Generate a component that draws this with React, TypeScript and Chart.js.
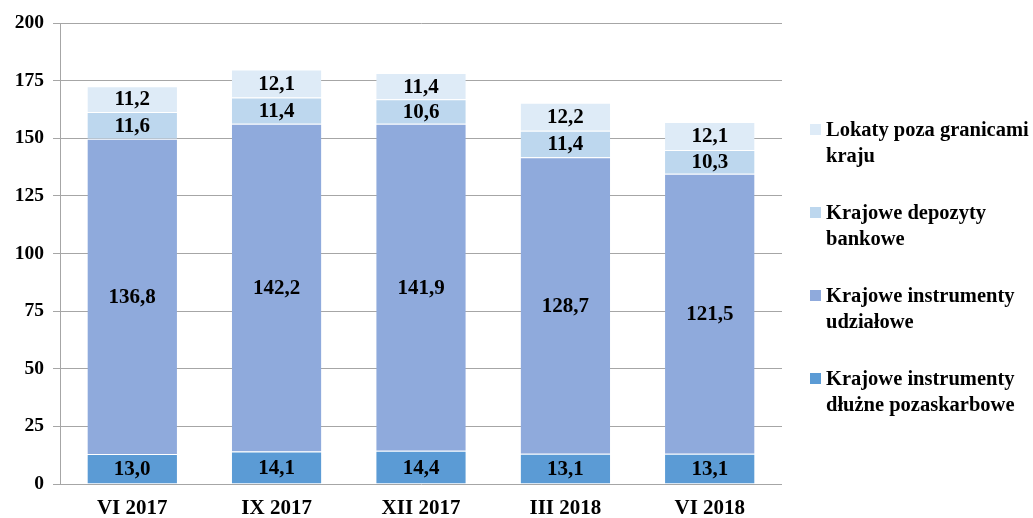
import React, { useEffect, useRef } from "react";
import { Chart, registerables } from "chart.js";

Chart.register(...registerables);

const categories = ["VI 2017", "IX 2017", "XII 2017", "III 2018", "VI 2018"];
const dluzne = [13.0, 14.1, 14.4, 13.1, 13.1];
const udzialowe = [136.8, 142.2, 141.9, 128.7, 121.5];
const depozyty = [11.6, 11.4, 10.6, 11.4, 10.3];
const lokaty = [11.2, 12.1, 11.4, 12.2, 12.1];

const seriesNames = [
  "Krajowe instrumenty dłużne pozaskarbowe",
  "Krajowe instrumenty udziałowe",
  "Krajowe depozyty bankowe",
  "Lokaty poza granicami kraju",
];
const legendLines = [
  ["Lokaty poza granicami", "kraju"],
  ["Krajowe depozyty", "bankowe"],
  ["Krajowe instrumenty", "udziałowe"],
  ["Krajowe instrumenty", "dłużne pozaskarbowe"],
];
const colors = ["#5B9BD5", "#8FAADC", "#BDD7EE", "#DEEBF7"];
const legendColors = ["#DEEBF7", "#BDD7EE", "#8FAADC", "#5B9BD5"];

const FONT = "'Liberation Serif', 'Times New Roman', serif";

const labelPlugin = {
  id: "segLabels",
  afterDatasetsDraw(chart: any) {
    const ctx = chart.ctx;
    ctx.save();
    ctx.font = `bold 21px ${FONT}`;
    ctx.fillStyle = "#000";
    ctx.textAlign = "center";
    ctx.textBaseline = "middle";
    chart.data.datasets.forEach((ds: any, i: number) => {
      const meta = chart.getDatasetMeta(i);
      meta.data.forEach((bar: any, j: number) => {
        const v = ds.data[j] as number;
        const y = (bar.y + bar.base) / 2;
        ctx.fillText(v.toFixed(1).replace(".", ","), bar.x, y + 1);
      });
    });
    ctx.restore();
  },
};

export default function App() {
  const ref = useRef<HTMLCanvasElement>(null);
  useEffect(() => {
    document.body.style.margin = "0";
    const chart = new Chart(ref.current!, {
      type: "bar",
      data: {
        labels: categories,
        datasets: [dluzne, udzialowe, depozyty, lokaty].map((d, i) => ({
          label: seriesNames[i],
          data: d,
          backgroundColor: colors[i],
          borderColor: "#ffffff",
          borderWidth: { top: 1, left: 0, right: 0, bottom: 0 },
          borderSkipped: false,
          categoryPercentage: 1,
          barPercentage: 0.62,
        })),
      },
      options: {
        animation: false,
        responsive: false,
        layout: { padding: { top: 23, right: 251, left: 0, bottom: 0 } },
        plugins: { legend: { display: false }, tooltip: { enabled: false } },
        scales: {
          x: {
            stacked: true,
            grid: { display: false },
            border: { display: false },
            ticks: {
              color: "#000",
              font: { family: FONT, size: 21, weight: "bold" },
              padding: 4,
            },
            afterFit: (s: any) => {
              s.height = 34;
            },
          },
          y: {
            stacked: true,
            min: 0,
            max: 200,
            ticks: {
              stepSize: 25,
              color: "#000",
              font: { family: FONT, size: 19.5, weight: "bold" },
              padding: 9,
            },
            grid: { color: "#A6A6A6", tickLength: 7, lineWidth: 1 },
            border: { display: true, color: "#A6A6A6" },
            afterFit: (s: any) => {
              s.width = 60;
            },
          },
        },
      },
      plugins: [labelPlugin],
    });
    return () => chart.destroy();
  }, []);

  return (
    <div style={{ position: "relative", width: 1033, height: 518, background: "#fff" }}>
      <canvas ref={ref} width={1033} height={518} style={{ display: "block" }} />
      <div style={{ position: "absolute", left: 810, top: 116, fontFamily: FONT, fontWeight: "bold", fontSize: 20.5, lineHeight: "26px", color: "#000" }}>
        {legendLines.map((lines, i) => (
          <div key={i} style={{ position: "absolute", top: i * 83, left: 0, whiteSpace: "nowrap" }}>
            <span style={{ position: "absolute", left: 0, top: 8, width: 11, height: 11, background: legendColors[i] }} />
            <div style={{ marginLeft: 16 }}>
              {lines.map((l, k) => (
                <div key={k}>{l}</div>
              ))}
            </div>
          </div>
        ))}
      </div>
    </div>
  );
}
